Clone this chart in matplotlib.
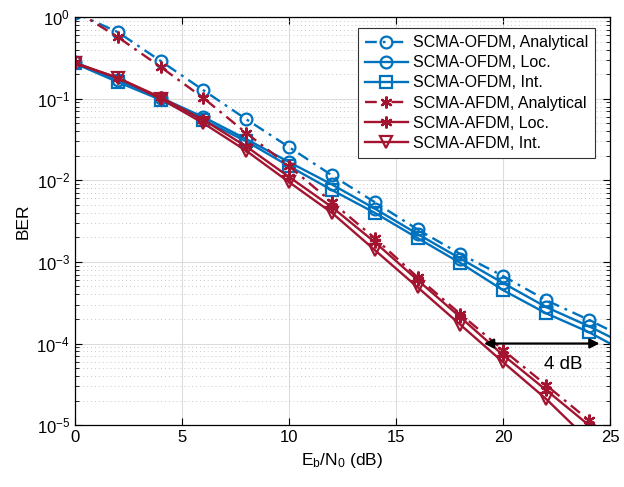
import numpy as np
import matplotlib
matplotlib.use("Agg")
import matplotlib.pyplot as plt

plt.rcParams["font.family"] = ["Liberation Sans", "DejaVu Sans"]
plt.rcParams["mathtext.fontset"] = "custom"
plt.rcParams["mathtext.rm"] = "Liberation Sans"
plt.rcParams["mathtext.it"] = "Liberation Sans:italic"

# Eb/N0 grid (dB); last point lies past the axis edge and gets clipped
snr_db = [0, 2, 4, 6, 8, 10, 12, 14, 16, 18, 20, 22, 24, 26]

ofdm_analytical = [1.13, 0.655, 0.29, 0.127, 0.056, 0.0255, 0.0115, 0.0054,
                   0.0025, 0.00125, 6.7e-4, 3.4e-4, 1.95e-4, 1.07e-4]
ofdm_loc = [0.28, 0.17, 0.103, 0.0595, 0.032, 0.0167, 0.0089, 0.0045,
            0.0022, 0.0011, 5.5e-4, 2.8e-4, 1.63e-4, 8.9e-5]
ofdm_int = [0.27, 0.16, 0.097, 0.055, 0.030, 0.0149, 0.0076, 0.0040,
            0.00196, 0.00097, 4.5e-4, 2.35e-4, 1.38e-4, 7.2e-5]

afdm_analytical = [1.2, 0.57, 0.245, 0.102, 0.038, 0.0149, 0.0054, 0.00196,
                   6.5e-4, 2.3e-4, 8.3e-5, 3.1e-5, 1.15e-5, 4e-6]
afdm_loc = [0.275, 0.18, 0.104, 0.055, 0.026, 0.011, 0.0047, 0.00175,
            6.0e-4, 2.1e-4, 7.2e-5, 2.7e-5, 1.0e-5, 3.5e-6]
afdm_int = [0.27, 0.18, 0.10, 0.050, 0.023, 0.0095, 0.0040, 0.0014,
            4.9e-4, 1.7e-4, 5.9e-5, 2.1e-5, 6.5e-6, 2e-6]

labels = ["SCMA-OFDM, Analytical", "SCMA-OFDM, Loc.", "SCMA-OFDM, Int.",
          "SCMA-AFDM, Analytical", "SCMA-AFDM, Loc.", "SCMA-AFDM, Int."]

BLUE = "#0072BD"
RED = "#A2142F"
ASTERISK = (6, 2, 0)
DASHDOT = (0, (5, 2.5, 1.2, 2.5))

fig = plt.figure(figsize=(6.24, 4.87), dpi=100)
ax = fig.add_axes([0.120, 0.127, 0.858, 0.838])

series = [
    (ofdm_analytical, BLUE, DASHDOT, "o"),
    (ofdm_loc, BLUE, "-", "o"),
    (ofdm_int, BLUE, "-", "s"),
    (afdm_analytical, RED, DASHDOT, ASTERISK),
    (afdm_loc, RED, "-", ASTERISK),
    (afdm_int, RED, "-", "v"),
]
for (vals, col, ls, mk), lbl in zip(series, labels):
    ax.semilogy(snr_db, vals, color=col, linestyle=ls, linewidth=1.7,
                marker=mk, markersize=8.5, markerfacecolor="none",
                markeredgecolor=col, markeredgewidth=1.6, label=lbl)

ax.set_xlim(0, 25)
ax.set_ylim(1e-5, 1)
ax.set_xticks([0, 5, 10, 15, 20, 25])
ax.grid(True, which="major", color="#dcdcdc", linewidth=0.8)
ax.grid(True, which="minor", color="#c8c8c8", linestyle=(0, (1, 3)), linewidth=0.7)
ax.tick_params(which="both", direction="in", top=True, right=True, labelsize=12)
ax.tick_params(which="major", length=5)
ax.tick_params(which="minor", length=3)
for s in ax.spines.values():
    s.set_linewidth(0.9)

ax.set_xlabel(r"E$_\mathregular{b}$/N$_\mathregular{0}$ (dB)", fontsize=12.5)
ax.set_ylabel("BER", fontsize=12.5)

ax.annotate("", xy=(19.1, 1e-4), xytext=(24.5, 1e-4),
            arrowprops=dict(arrowstyle="<|-|>", color="black", lw=1.6,
                            mutation_scale=14, shrinkA=0, shrinkB=0))
ax.text(22.8, 5.6e-5, "4 dB", fontsize=13.5, ha="center", va="center")

leg = ax.legend(loc="upper right", bbox_to_anchor=(0.972, 0.973), fontsize=11.5,
                handlelength=2.7, labelspacing=0.32, borderpad=0.45,
                borderaxespad=0, handletextpad=0.3, fancybox=False,
                framealpha=1, edgecolor="#333333")
leg.get_frame().set_linewidth(0.8)

fig.savefig("out.png", dpi=100)
